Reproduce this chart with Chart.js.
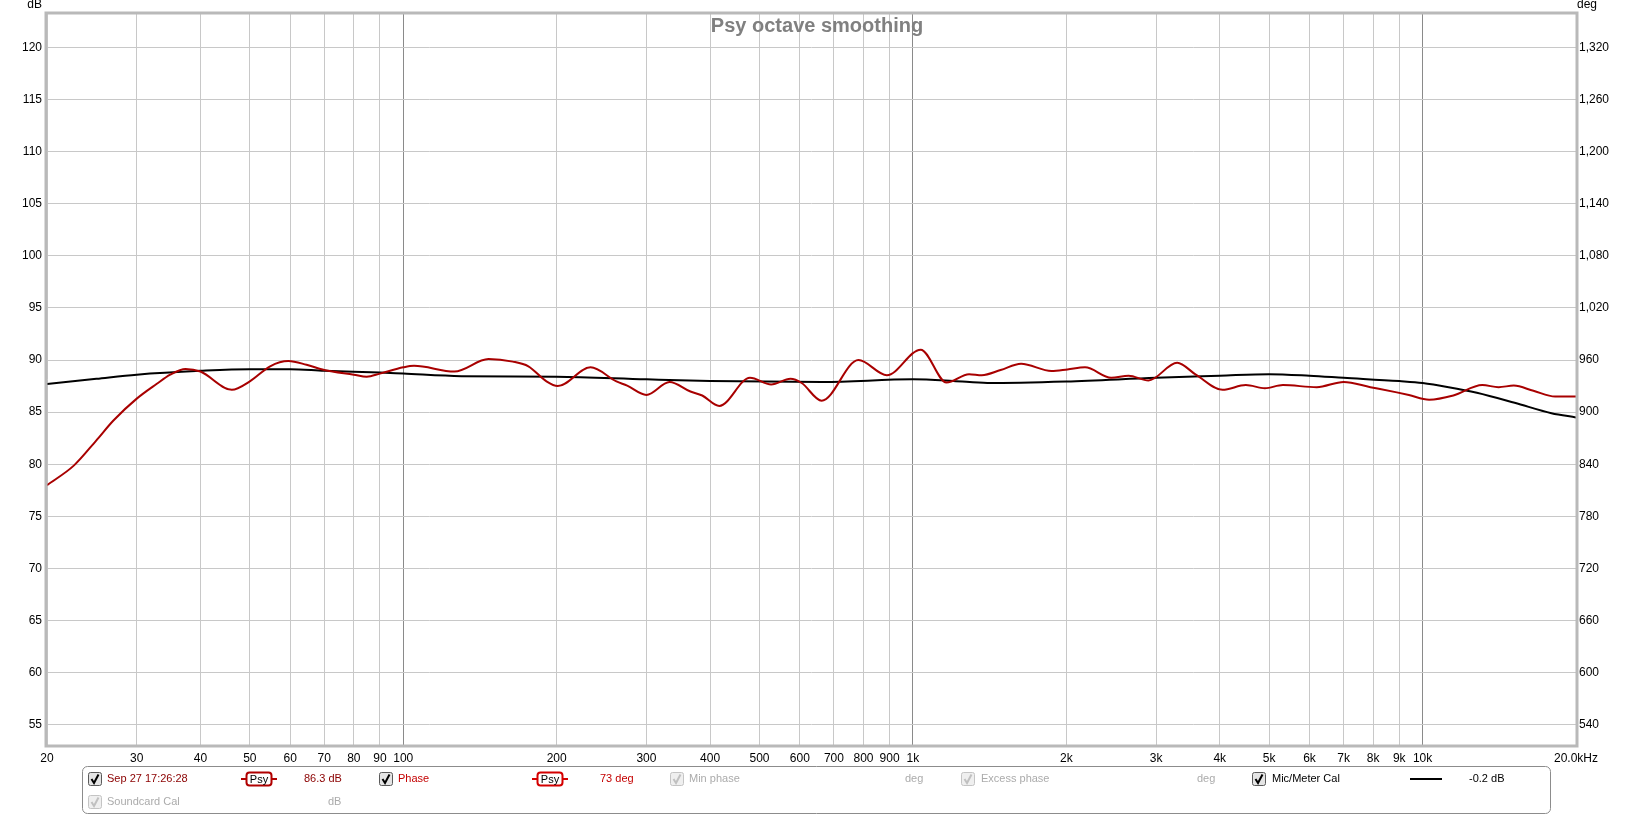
<!DOCTYPE html>
<html>
<head>
<meta charset="utf-8">
<script src="https://cdn.jsdelivr.net/npm/chart.js@4.4.1/dist/chart.umd.min.js"></script>
<style>
  html, body { margin: 0; padding: 0; background: #fff; }
  #wrap { width: 1633px; height: 816px; position: relative; }
</style>
</head>
<body>
<div id="wrap"><canvas id="rta"></canvas></div>
<script>
// measured SPL, psy octave smoothing (dB)
const splFreqs = [20, 22.6, 25, 27, 30, 32.8, 34.9, 37.4, 40, 46.1, 50, 54.8, 59.5, 64.6, 70, 80, 84.8, 90, 100, 105, 126, 147, 164, 176, 191, 201, 233, 262, 275, 300, 333, 366, 386, 417, 479, 527, 575, 605, 662, 782, 889, 1036, 1164, 1289, 1365, 1486, 1630, 1870, 2010, 2176, 2450, 2650, 2898, 3300, 3590, 4050, 4500, 4905, 5320, 6200, 7000, 7900, 8900, 9400, 10300, 11490, 13100, 14100, 15100, 16500, 18200, 20000]
const splValues = [78.0, 79.9, 82.3, 84.2, 86.3, 87.7, 88.6, 89.15, 88.9, 87.14, 87.95, 89.4, 89.9, 89.55, 89.05, 88.6, 88.4, 88.7, 89.3, 89.45, 88.9, 90.1, 89.85, 89.4, 87.95, 87.5, 89.3, 87.95, 87.55, 86.66, 87.9, 86.98, 86.6, 85.6, 88.3, 87.65, 88.2, 87.8, 86.1, 90.0, 88.55, 91.0, 87.85, 88.65, 88.55, 89.04, 89.65, 88.95, 89.1, 89.3, 88.3, 88.5, 88.04, 89.74, 88.6, 87.15, 87.6, 87.3, 87.6, 87.4, 87.9, 87.4, 86.9, 86.65, 86.2, 86.6, 87.6, 87.4, 87.55, 87.05, 86.5, 86.5]

// mic/meter calibration curve (dB)
const calFreqs = [20, 25, 30, 40, 50, 60, 70, 90, 100, 130, 200, 300, 400, 665, 1000, 1200, 1400, 2000, 3000, 4000, 5000, 6000, 7000, 9000, 10000, 11250, 12780, 15160, 17900, 20000]
const calValues = [87.7, 88.2, 88.6, 88.97, 89.13, 89.13, 88.97, 88.8, 88.7, 88.45, 88.4, 88.15, 88.0, 87.9, 88.15, 88.0, 87.8, 87.95, 88.3, 88.5, 88.65, 88.5, 88.3, 87.98, 87.8, 87.4, 86.86, 85.9, 84.9, 84.5]

const xTickValues = [20, 30, 40, 50, 60, 70, 80, 90, 100, 200, 300, 400, 500, 600, 700, 800, 900, 1000, 2000, 3000, 4000, 5000, 6000, 7000, 8000, 9000, 10000, 20000]
const xTickLabels = ['20', '30', '40', '50', '60', '70', '80', '90', '100', '200', '300', '400', '500', '600', '700', '800', '900', '1k', '2k', '3k', '4k', '5k', '6k', '7k', '8k', '9k', '10k', '20.0kHz']
const dbTicks = [55, 60, 65, 70, 75, 80, 85, 90, 95, 100, 105, 110, 115, 120]
const degTicks = [540, 600, 660, 720, 780, 840, 900, 960, 1020, 1080, 1140, 1200, 1260, 1320]

const dbMin = 53.08
const dbMax = 123.19
//deg axis is tied to dB axis: 55 dB <-> 540 deg, 5 dB <-> 60 deg
const toDeg = v => 540 + (v - 55) * 12

const FONT = 'Liberation Sans, Arial, sans-serif'
Chart.defaults.font.family = FONT
Chart.defaults.font.size = 12
Chart.defaults.color = '#000'

//checkbox like the REW legend
const drawCheck = (ctx, x, y, on) =>
{
	ctx.save()
	ctx.lineWidth = 1
	ctx.fillStyle = on ? '#e4e4e4' : '#efefef'
	ctx.strokeStyle = on ? '#5a5a5a' : '#c4c4c4'
	ctx.beginPath()
	ctx.roundRect(x + 0.5, y + 0.5, 13, 13, 2)
	ctx.fill()
	ctx.stroke()
	ctx.strokeStyle = on ? '#000' : '#c0c0c0'
	ctx.lineWidth = 2
	ctx.beginPath()
	ctx.moveTo(x + 3.5, y + 7)
	ctx.lineTo(x + 6, y + 11)
	ctx.lineTo(x + 10.5, y + 2.5)
	ctx.stroke()
	ctx.restore()
}

const drawPsy = (ctx, x1, x2, y, col) =>
{
	ctx.save()
	ctx.strokeStyle = col
	ctx.lineWidth = 2
	ctx.beginPath()
	ctx.moveTo(x1, y)
	ctx.lineTo(x2, y)
	ctx.stroke()
	ctx.fillStyle = '#fff'
	ctx.beginPath()
	ctx.roundRect(x1 + 5.5, y - 6.5, x2 - x1 - 11, 13, 3)
	ctx.fill()
	ctx.stroke()
	ctx.fillStyle = '#000'
	ctx.font = '11px ' + FONT
	ctx.textAlign = 'center'
	ctx.textBaseline = 'middle'
	ctx.fillText('Psy', (x1 + x2) / 2, y + 0.5)
	ctx.restore()
}

const decor = {
	id: 'decor',
	afterDraw(chart)
	{
		const ctx = chart.ctx
		const a = chart.chartArea
		ctx.save()

		//plot frame
		ctx.strokeStyle = '#b9b9b9'
		ctx.lineWidth = 3
		ctx.strokeRect(a.left - 1, a.top - 1, a.right - a.left + 2, a.bottom - a.top + 2)

		//title
		ctx.fillStyle = '#808080'
		ctx.font = 'bold 20px ' + FONT
		ctx.textAlign = 'center'
		ctx.textBaseline = 'middle'
		ctx.fillText('Psy octave smoothing', 817, 26)

		//axis units
		ctx.fillStyle = '#000'
		ctx.font = '12px ' + FONT
		ctx.textAlign = 'right'
		ctx.fillText('dB', 42, 5)
		ctx.textAlign = 'left'
		ctx.fillText('deg', 1577, 5)

		//legend panel
		ctx.strokeStyle = '#8c8c8c'
		ctx.lineWidth = 1
		ctx.fillStyle = '#fff'
		ctx.beginPath()
		ctx.roundRect(82.5, 766.5, 1468, 47, 5)
		ctx.fill()
		ctx.stroke()

		const r1 = 779, r2 = 802
		ctx.font = '11px ' + FONT
		ctx.textBaseline = 'middle'
		ctx.textAlign = 'left'
		const txt = (s, x, y, c) => { ctx.fillStyle = c; ctx.fillText(s, x, y) }

		drawCheck(ctx, 88, r1 - 7, true)
		txt('Sep 27 17:26:28', 107, r1, '#8b0000')
		drawPsy(ctx, 241, 277, r1, '#b00000')
		txt('86.3 dB', 304, r1, '#8b0000')

		drawCheck(ctx, 379, r1 - 7, true)
		txt('Phase', 398, r1, '#c40000')
		drawPsy(ctx, 532, 568, r1, '#d40000')
		txt('73 deg', 600, r1, '#c40000')

		drawCheck(ctx, 670, r1 - 7, false)
		txt('Min phase', 689, r1, '#ababab')
		txt('deg', 905, r1, '#ababab')

		drawCheck(ctx, 961, r1 - 7, false)
		txt('Excess phase', 981, r1, '#ababab')
		txt('deg', 1197, r1, '#ababab')

		drawCheck(ctx, 1252, r1 - 7, true)
		txt('Mic/Meter Cal', 1272, r1, '#000')
		ctx.strokeStyle = '#000'
		ctx.lineWidth = 2
		ctx.beginPath()
		ctx.moveTo(1410, r1)
		ctx.lineTo(1442, r1)
		ctx.stroke()
		txt('-0.2 dB', 1469, r1, '#000')

		drawCheck(ctx, 88, r2 - 7, false)
		txt('Soundcard Cal', 107, r2, '#ababab')
		txt('dB', 328, r2, '#ababab')

		ctx.restore()
	}
}

const rtaChart = new Chart(document.getElementById('rta').getContext('2d'),
{
	type: 'line',
	data: {
		datasets: [
			{
				label: 'Sep 27 17:26:28',
				data: splFreqs.map((f, i) => ({ x: f, y: splValues[i] })),
				borderColor: '#a80000',
				borderWidth: 2,
				pointRadius: 0,
				cubicInterpolationMode: 'monotone',
				yAxisID: 'y'
			},
			{
				label: 'Mic/Meter Cal',
				data: calFreqs.map((f, i) => ({ x: f, y: calValues[i] })),
				borderColor: '#000',
				borderWidth: 2,
				pointRadius: 0,
				cubicInterpolationMode: 'monotone',
				yAxisID: 'y'
			}
		]
	},
	options: {
		responsive: true,
		maintainAspectRatio: false,
		animation: false,
		events: [],
		layout: { padding: { top: 14, left: 0, right: 0, bottom: 0 } },
		plugins: {
			legend: { display: false },
			tooltip: { enabled: false },
			title: { display: false }
		},
		scales: {
			x: {
				type: 'logarithmic',
				min: 20,
				max: 20000,
				afterBuildTicks: s => { s.ticks = xTickValues.map(v => ({ value: v })) },
				afterFit: s => { s.height = 71 },
				border: { display: false },
				grid: {
					drawTicks: false,
					color: c => [100, 1000, 10000].includes(c.tick && c.tick.value) ? '#8a8a8a' : '#c8c8c8'
				},
				ticks: {
					autoSkip: false,
					maxRotation: 0,
					minRotation: 0,
					padding: 6,
					callback: (v, i) => xTickLabels[i]
				}
			},
			y: {
				position: 'left',
				min: dbMin,
				max: dbMax,
				afterBuildTicks: s => { s.ticks = dbTicks.map(v => ({ value: v })) },
				afterFit: s => { s.width = 47 },
				border: { display: false },
				grid: { drawTicks: false, color: '#c8c8c8' },
				ticks: { padding: 5 }
			},
			y1: {
				position: 'right',
				min: toDeg(dbMin),
				max: toDeg(dbMax),
				afterBuildTicks: s => { s.ticks = degTicks.map(v => ({ value: v })) },
				afterFit: s => { s.width = 57 },
				border: { display: false },
				grid: { display: false, drawTicks: false },
				ticks: {
					padding: 3,
					callback: v => v.toLocaleString('en-US')
				}
			}
		}
	},
	plugins: [decor]
})
</script>
</body>
</html>
